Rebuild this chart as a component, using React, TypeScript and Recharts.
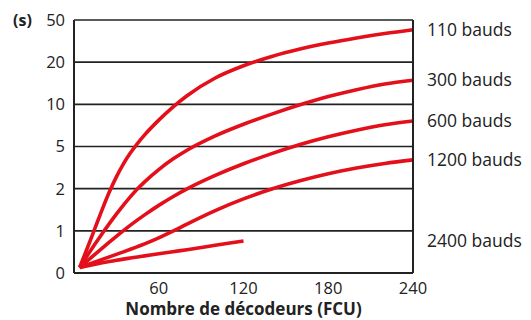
import React from 'react';
import { LineChart, Line, XAxis, YAxis, CartesianGrid } from 'recharts';

// Number of decoders (FCU)
const decoders = [4, 10, 15, 20, 25, 30, 35, 40, 45, 50, 60, 70, 80, 100, 120, 140, 160, 180, 200, 220, 240];
// Values expressed as positions on the stepped time scale (0,1,2,5,10,20,50 s)
const baud110 = [0.13, 0.64, 1.075, 1.51, 1.92, 2.28, 2.59, 2.85, 3.075, 3.275, 3.625, 3.935, 4.205, 4.625, 4.915, 5.135, 5.311, 5.455, 5.575, 5.679, 5.769];
const baud300 = [0.13, 0.442, 0.692, 0.937, 1.172, 1.397, 1.612, 1.812, 1.997, 2.162, 2.452, 2.702, 2.912, 3.252, 3.528, 3.768, 3.988, 4.184, 4.348, 4.484, 4.572];
const baud600 = [0.13, 0.304, 0.449, 0.592, 0.732, 0.869, 1.004, 1.134, 1.259, 1.379, 1.604, 1.809, 1.994, 2.314, 2.59, 2.83, 3.046, 3.23, 3.386, 3.516, 3.606];
const baud1200 = [0.13, 0.202, 0.262, 0.322, 0.382, 0.442, 0.502, 0.563, 0.626, 0.691, 0.833, 0.991, 1.161, 1.481, 1.757, 1.993, 2.189, 2.355, 2.491, 2.599, 2.683];
const baud2400 = [0.13, 0.175, 0.21, 0.243, 0.273, 0.301, 0.329, 0.355, 0.381, 0.406, 0.456, 0.505, 0.553, 0.657, 0.761, null, null, null, null, null, null];

const seriesKeys = ['b110', 'b300', 'b600', 'b1200', 'b2400'];
const seriesNames = ['110 bauds', '300 bauds', '600 bauds', '1200 bauds', '2400 bauds'];
const seriesValues = [baud110, baud300, baud600, baud1200, baud2400];

const xTicks = [60, 120, 180, 240];
const yTickLabels = ['0', '1', '2', '5', '10', '20', '50'];
const yTicks = yTickLabels.map((_, i) => i);

const xTitle = 'Nombre de décodeurs (FCU)';
const yUnit = '(s)';

const data = decoders.map((d, i) => {
  const row: Record<string, number | null> = { d };
  seriesKeys.forEach((k, j) => {
    row[k] = seriesValues[j][i];
  });
  return row;
});

const seriesEnds = seriesValues.map((vals) => {
  const filled = vals.filter((v) => v !== null) as number[];
  return filled[filled.length - 1];
});

const RED = '#e3101b';
const INK = '#222222';
const FONT = '"Open Sans", "Noto Sans", sans-serif';

export default function App() {
  return (
    <div style={{ position: 'absolute', left: 0, top: 0, width: 531, height: 320, background: '#fff' }}>
      <LineChart
        width={531}
        height={320}
        data={data}
        margin={{ top: 20, right: 0, bottom: 17, left: 30 }}
        style={{ fontFamily: FONT }}
      >
        <CartesianGrid
          yAxisId="left"
          vertical={false}
          stroke={INK}
          strokeWidth={1.6}
        />
        <XAxis
          dataKey="d"
          type="number"
          domain={[0, 240]}
          ticks={xTicks}
          interval={0}
          height={30}
          tickSize={0}
          tickMargin={9}
          tickLine={false}
          axisLine={{ stroke: INK, strokeWidth: 2 }}
          tick={{ fontSize: 16.5, fill: INK, fontFamily: FONT }}
          label={{
            value: xTitle,
            position: 'bottom',
            offset: 0,
            style: { fontSize: 17, fontWeight: 700, fill: INK, fontFamily: FONT },
          }}
        />
        <YAxis
          yAxisId="left"
          type="number"
          domain={[0, 6]}
          ticks={yTicks}
          interval={0}
          width={44}
          tickSize={0}
          tickMargin={9}
          tickLine={false}
          axisLine={{ stroke: INK, strokeWidth: 2 }}
          tickFormatter={(v: number) => yTickLabels[v]}
          tick={{ fontSize: 16.5, fill: INK, fontFamily: FONT }}
          label={(props: any) => {
            const vb = props.viewBox || {};
            return (
              <text
                x={(vb.x ?? 30) - 17}
                y={(vb.y ?? 20) + 6}
                fontSize={16}
                fontWeight={700}
                fill={INK}
                fontFamily={FONT}
              >
                {yUnit}
              </text>
            );
          }}
        />
        <YAxis
          yAxisId="right"
          orientation="right"
          type="number"
          domain={[0, 6]}
          ticks={seriesEnds}
          interval={0}
          width={118}
          tickSize={0}
          tickMargin={14}
          tickLine={false}
          axisLine={{ stroke: INK, strokeWidth: 2 }}
          tickFormatter={(v: number) => seriesNames[seriesEnds.indexOf(v)]}
          tick={{ fontSize: 17.5, fill: INK, fontFamily: FONT }}
        />
        {seriesKeys.map((k, i) => (
          <Line
            key={k}
            yAxisId={i === 0 ? 'right' : 'left'}
            dataKey={k}
            type="monotone"
            stroke={RED}
            strokeWidth={3.6}
            dot={false}
            activeDot={false}
            isAnimationActive={false}
          />
        ))}
      </LineChart>
    </div>
  );
}
